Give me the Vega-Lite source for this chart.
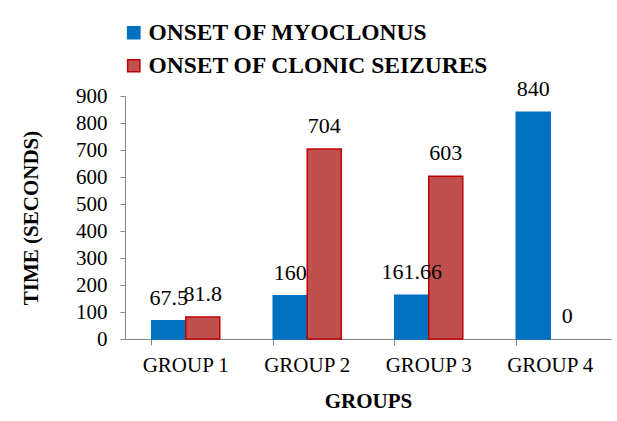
{
  "$schema": "https://vega.github.io/schema/vega-lite/v6.json",
  "width": 486,
  "height": 243,
  "autosize": {"type": "none"},
  "padding": {"left": 125, "top": 96, "right": 6, "bottom": 82},
  "background": "white",
  "config": {
    "font": "Liberation Serif",
    "view": {"stroke": null},
    "axis": {"grid": false, "domainColor": "#868686", "tickColor": "#868686", "labelFont": "Liberation Serif", "labelFontSize": 21, "labelColor": "black", "titleFont": "Liberation Serif", "titleFontSize": 21, "titleFontWeight": "bold", "titleColor": "black"}
  },
  "data": {
    "values": [
      {"group": "GROUP 1", "series": "ONSET OF MYOCLONUS", "value": 67.5, "label": "67.5"},
      {"group": "GROUP 1", "series": "ONSET OF CLONIC SEIZURES", "value": 81.8, "label": "81.8"},
      {"group": "GROUP 2", "series": "ONSET OF MYOCLONUS", "value": 160, "label": "160"},
      {"group": "GROUP 2", "series": "ONSET OF CLONIC SEIZURES", "value": 704, "label": "704"},
      {"group": "GROUP 3", "series": "ONSET OF MYOCLONUS", "value": 161.66, "label": "161.66"},
      {"group": "GROUP 3", "series": "ONSET OF CLONIC SEIZURES", "value": 603, "label": "603"},
      {"group": "GROUP 4", "series": "ONSET OF MYOCLONUS", "value": 840, "label": "840"},
      {"group": "GROUP 4", "series": "ONSET OF CLONIC SEIZURES", "value": 0, "label": "0"}
    ]
  },
  "encoding": {
    "x": {
      "field": "group", "type": "nominal",
      "scale": {"paddingInner": 0.44, "paddingOuter": 0.22},
      "axis": {"title": "GROUPS", "labelAngle": 0, "tickSize": 6, "bandPosition": 0, "labelPadding": 9, "titlePadding": 15}
    },
    "xOffset": {"field": "series", "type": "nominal", "sort": ["ONSET OF MYOCLONUS", "ONSET OF CLONIC SEIZURES"], "scale": {"paddingInner": 0}},
    "y": {
      "field": "value", "type": "quantitative",
      "scale": {"domain": [0, 900], "nice": false},
      "axis": {"title": "TIME (SECONDS)", "values": [0, 100, 200, 300, 400, 500, 600, 700, 800, 900], "tickSize": 5, "labelPadding": 13, "titlePadding": 34}
    }
  },
  "layer": [
    {
      "mark": {"type": "bar", "strokeWidth": 1.5},
      "encoding": {
        "fill": {
          "field": "series", "type": "nominal",
          "sort": ["ONSET OF MYOCLONUS", "ONSET OF CLONIC SEIZURES"],
          "scale": {"domain": ["ONSET OF MYOCLONUS", "ONSET OF CLONIC SEIZURES"], "range": ["#0070C0", "#C0504D"]},
          "legend": {
            "title": null, "orient": "none", "legendX": -3, "legendY": -75, "direction": "vertical",
            "symbolType": "square", "symbolSize": 150, "symbolStrokeWidth": 1.5,
            "labelFont": "Liberation Serif", "labelFontSize": 23.5, "labelFontWeight": "bold", "labelColor": "black",
            "labelOffset": 3, "rowPadding": 8, "labelLimit": 600
          }
        },
        "stroke": {
          "field": "series", "type": "nominal",
          "sort": ["ONSET OF MYOCLONUS", "ONSET OF CLONIC SEIZURES"],
          "scale": {"domain": ["ONSET OF MYOCLONUS", "ONSET OF CLONIC SEIZURES"], "range": ["#0070C0", "#C00000"]},
          "legend": null
        },
        "strokeOpacity": {"condition": {"test": "datum.value == 0", "value": 0}, "value": 1}
      }
    },
    {
      "mark": {"type": "text", "baseline": "alphabetic", "dy": -16, "fontSize": 22, "font": "Liberation Serif", "color": "black"},
      "encoding": {"text": {"field": "label", "type": "nominal"}}
    }
  ]
}
